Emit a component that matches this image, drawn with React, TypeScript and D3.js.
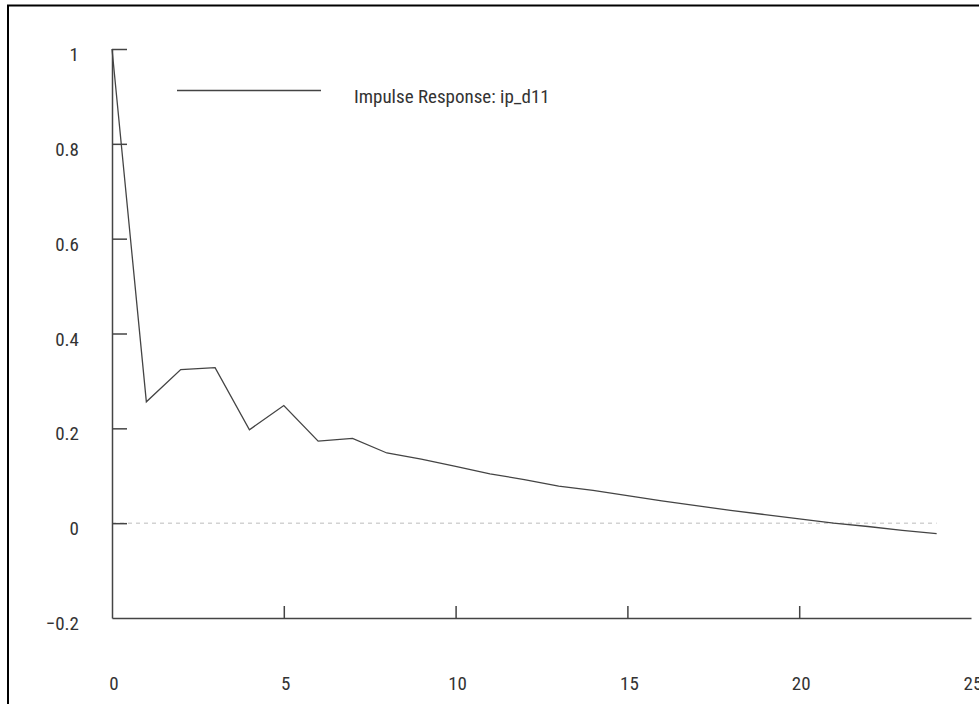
import React, { useEffect, useRef } from 'react';
import * as d3 from 'd3';

// impulse response, periods 0..24
const periods = [0, 1, 2, 3, 4, 5, 6, 7, 8, 9, 10, 11, 12, 13, 14, 15, 16, 17, 18, 19, 20, 21, 22, 23, 24];
const response = [1.0, 0.256, 0.324, 0.328, 0.197, 0.248, 0.173, 0.179, 0.148, 0.135, 0.12, 0.104, 0.092,
    0.078, 0.069, 0.058, 0.047, 0.037, 0.027, 0.018, 0.009, 0.0, -0.007, -0.015, -0.022];
const yTicks = [-0.2, 0, 0.2, 0.4, 0.6, 0.8, 1];
const xTicks = [0, 5, 10, 15, 20, 25];
const seriesLabel = 'Impulse Response: ip_d11';

export default function App() {
    const ref = useRef<SVGSVGElement>(null);
    const width = 979;
    const height = 704;
    const font = '"Liberation Sans Narrow", "Arial Narrow", "Roboto Condensed", sans-serif';
    const ink = '#444';

    useEffect(() => {
        const svg = d3.select(ref.current);
        svg.selectAll('*').remove();

        const xScale = d3.scaleLinear().domain([0, 25]).range([112, 971]);
        const yScale = d3.scaleLinear().domain([-0.2, 1]).range([618, 49]);

        // frame (cropped at right and bottom)
        svg.append('path')
            .attr('d', `M8,${height} V5.5 H${width}`)
            .attr('fill', 'none')
            .attr('stroke', '#000')
            .attr('stroke-width', 2);

        // zero reference line
        svg.append('line')
            .attr('x1', xScale(0))
            .attr('x2', xScale(24))
            .attr('y1', yScale(0))
            .attr('y2', yScale(0))
            .attr('stroke', '#bbb')
            .attr('stroke-width', 1)
            .attr('stroke-dasharray', '4,4');

        // y axis: ticks point inward
        const yAxis = svg.append('g')
            .attr('transform', `translate(${xScale(0)},0)`)
            .call(d3.axisRight(yScale).tickValues(yTicks.slice(1)).tickSize(15).tickSizeOuter(0).tickFormat(() => ''));
        yAxis.select('.domain').attr('stroke', ink).attr('stroke-width', 1.5);
        yAxis.selectAll('.tick line').attr('stroke', ink).attr('stroke-width', 1.5);

        // x axis: ticks point up
        const xAxis = svg.append('g')
            .attr('transform', `translate(0,${yScale(-0.2)})`)
            .call(d3.axisTop(xScale).tickValues(xTicks.slice(1, 5)).tickSize(12).tickSizeOuter(0).tickFormat(() => ''));
        xAxis.select('.domain').attr('stroke', ink).attr('stroke-width', 1.5);
        xAxis.selectAll('.tick line').attr('stroke', ink).attr('stroke-width', 1.5);

        // tick labels
        svg.append('g').selectAll('text')
            .data(yTicks)
            .enter().append('text')
            .attr('x', 79)
            .attr('y', d => yScale(d) + 12)
            .attr('text-anchor', 'end')
            .attr('font-family', font)
            .attr('font-size', 19)
            .attr('fill', '#333')
            .text(d => d3.format('')(+d.toFixed(1)));
        svg.append('g').selectAll('text')
            .data(xTicks)
            .enter().append('text')
            .attr('x', d => xScale(d) + 2)
            .attr('y', 690)
            .attr('text-anchor', 'middle')
            .attr('font-family', font)
            .attr('font-size', 19)
            .attr('fill', '#333')
            .text(d => d);

        // series
        const line = d3.line<number>()
            .x((d, i) => xScale(periods[i]))
            .y(d => yScale(d));
        svg.append('path')
            .datum(response)
            .attr('d', line)
            .attr('fill', 'none')
            .attr('stroke', ink)
            .attr('stroke-width', 1.3);

        // legend
        svg.append('line')
            .attr('x1', 177)
            .attr('x2', 321)
            .attr('y1', 90.5)
            .attr('y2', 90.5)
            .attr('stroke', ink)
            .attr('stroke-width', 1.5);
        svg.append('text')
            .attr('x', 354)
            .attr('y', 102.5)
            .attr('font-family', font)
            .attr('font-size', 19)
            .attr('fill', '#333')
            .text(seriesLabel);
    }, []);

    return (
        <div style={{ position: 'absolute', left: 0, top: 0 }}>
            <svg ref={ref} width={width} height={height} style={{ display: 'block', background: '#fff' }} />
        </div>
    );
}
